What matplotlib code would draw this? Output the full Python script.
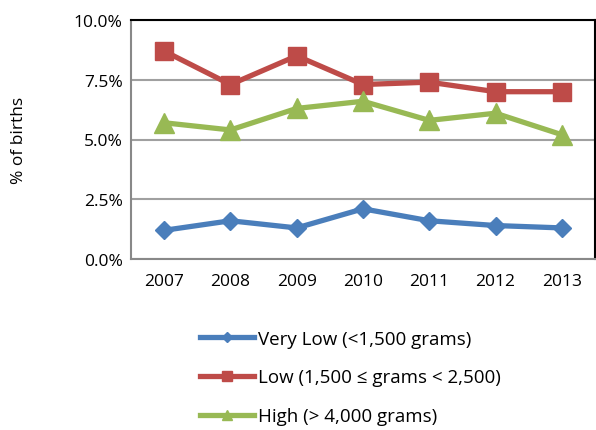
import matplotlib.pyplot as plt
from matplotlib.ticker import FuncFormatter

plt.rcParams['font.family'] = ['Open Sans', 'DejaVu Sans']

years = ['2007', '2008', '2009', '2010', '2011', '2012', '2013']
very_low = [1.2, 1.6, 1.3, 2.1, 1.6, 1.4, 1.3]
low = [8.7, 7.3, 8.5, 7.3, 7.4, 7.0, 7.0]
high = [5.7, 5.4, 6.3, 6.6, 5.8, 6.1, 5.2]
labels = ['Very Low (<1,500 grams)', 'Low (1,500 \u2264 grams < 2,500)', 'High (> 4,000 grams)']

fig = plt.figure(figsize=(5.96, 4.31), dpi=100)
ax = fig.add_axes([131 / 596, 1 - 260 / 431, 464 / 596, 239 / 431])

x = range(len(years))
ax.plot(x, very_low, color='#4a7ebb', lw=3.8, marker='D', ms=9.5, label=labels[0], zorder=3)
ax.plot(x, low, color='#be4b48', lw=3.8, marker='s', ms=13.5, label=labels[1], zorder=3)
ax.plot(x, high, color='#98b954', lw=3.8, marker='^', ms=14, label=labels[2], zorder=3)

ax.set_xlim(-0.5, 6.5)
ax.set_ylim(0, 10)
ax.set_yticks([0, 2.5, 5, 7.5, 10])
ax.yaxis.set_major_formatter(FuncFormatter(lambda v, p: '%.1f%%' % v))
ax.set_xticks(list(x))
ax.set_xticklabels(years)
ax.tick_params(length=0, labelsize=12.5, pad=10)
ax.tick_params(axis='y', pad=6)
ax.grid(axis='y', color='#a0a0a0', lw=1.5)
ax.set_axisbelow(True)
for s in ['left', 'bottom']:
    ax.spines[s].set_color('#888888')
    ax.spines[s].set_linewidth(1.5)
for s in ['top', 'right']:
    ax.spines[s].set_color('black')
    ax.spines[s].set_linewidth(1.5)

ax.set_ylabel('% of births', fontsize=12.5, labelpad=34)

fig.legend(loc='upper left', bbox_to_anchor=(183 / 596, 1 - 314 / 431), frameon=False,
           fontsize=13.5, handlelength=2.9, markerscale=0.5, labelspacing=1.1, handletextpad=0.2)

fig.savefig('out.png', dpi=100)
